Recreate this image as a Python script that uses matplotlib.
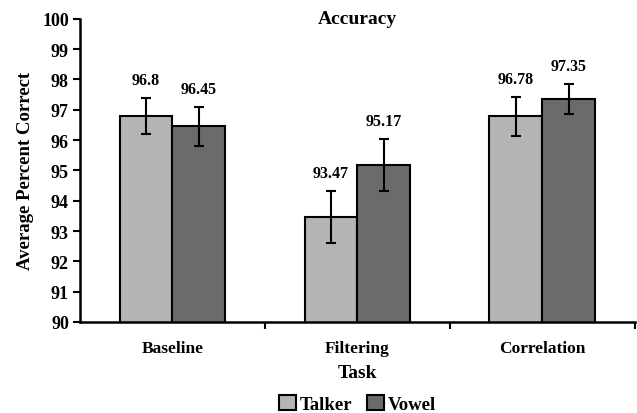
import matplotlib.pyplot as plt
import numpy as np

plt.rcParams['font.family'] = ['Liberation Serif', 'DejaVu Serif']
plt.rcParams['font.weight'] = 'bold'

tasks = ['Baseline', 'Filtering', 'Correlation']
talker = [96.8, 93.47, 96.78]
vowel = [96.45, 95.17, 97.35]
talker_err = [0.6, 0.85, 0.63]
vowel_err = [0.65, 0.85, 0.5]
talker_labels = ['96.8', '93.47', '96.78']
vowel_labels = ['96.45', '95.17', '97.35']

fig = plt.figure(figsize=(6.37, 4.14), dpi=100)
ax = fig.add_axes([0.1256, 0.22, 0.871, 0.732])

x = np.arange(len(tasks))
w = 0.286
ekw = dict(elinewidth=1.5, capthick=1.5, ecolor='black')
ax.bar(x - w / 2, talker, w, color='#b4b4b4', edgecolor='black',
       linewidth=1.5, yerr=talker_err, capsize=3.5, error_kw=ekw, label='Talker')
ax.bar(x + w / 2, vowel, w, color='#6b6b6b', edgecolor='black',
       linewidth=1.5, yerr=vowel_err, capsize=3.5, error_kw=ekw, label='Vowel')

for i in range(len(tasks)):
    ax.annotate(talker_labels[i], (x[i] - w / 2, talker[i] + talker_err[i]),
                xytext=(0, 13), textcoords='offset points', ha='center',
                va='center', fontsize=11.5, fontweight='bold')
    ax.annotate(vowel_labels[i], (x[i] + w / 2, vowel[i] + vowel_err[i]),
                xytext=(0, 13), textcoords='offset points', ha='center',
                va='center', fontsize=11.5, fontweight='bold')

ax.set_ylim(90, 100)
ax.set_yticks(range(90, 101))
ax.set_xlim(-0.5, 2.5)
ax.set_xticks(x)
ax.set_xticklabels(tasks, fontsize=12.5, fontweight='bold')
ax.set_xticks([0.5, 1.5, 2.5], minor=True)
ax.tick_params(axis='x', which='major', length=0, pad=13)
ax.tick_params(axis='x', which='minor', length=5, width=1.5, direction='out')
ax.tick_params(axis='y', length=5, width=1.5, direction='out', labelsize=13, pad=3)
for t in ax.get_yticklabels():
    t.set_fontweight('bold')

for s in ['top', 'right']:
    ax.spines[s].set_visible(False)
for s in ['left', 'bottom']:
    ax.spines[s].set_linewidth(1.8)

ax.text(0.5, 1.0, 'Accuracy', transform=ax.transAxes, ha='center', va='center',
        fontsize=14, fontweight='bold')
ax.set_ylabel('Average Percent Correct', fontsize=13.5, fontweight='bold', labelpad=6)
ax.set_xlabel('Task', fontsize=14, fontweight='bold', labelpad=6)

ax.legend(loc='center', bbox_to_anchor=(0.5, -0.27), ncol=2, frameon=False,
          handlelength=0.9, handleheight=0.9, handletextpad=0.2,
          columnspacing=0.8, borderaxespad=0, borderpad=0.1,
          prop={'family': 'Liberation Serif', 'weight': 'bold', 'size': 13.5})

fig.savefig('out.png', dpi=100)
